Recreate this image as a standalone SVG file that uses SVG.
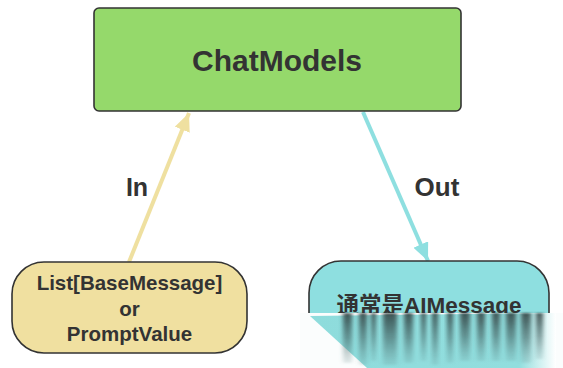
<svg xmlns="http://www.w3.org/2000/svg" width="563" height="368" viewBox="0 0 563 368">
<style>
  text { font-family: "Liberation Sans", "Noto Sans CJK SC", sans-serif; font-weight: bold; fill: #333333; text-anchor: middle; }
  .node { stroke: #333333; stroke-width: 1.6; }
  .edge { fill: none; stroke-width: 4; }
  .streak { fill: url(#streakGrad); filter: url(#soft); }
</style>
<defs>
  <marker id="headIn" markerUnits="userSpaceOnUse" markerWidth="20" markerHeight="16" refX="18" refY="8" orient="auto">
    <path d="M0,0 L18,8 L0,16 Z" fill="#efe0a0"/>
  </marker>
  <marker id="headOut" markerUnits="userSpaceOnUse" markerWidth="20" markerHeight="16" refX="18" refY="8" orient="auto">
    <path d="M0,0 L18,8 L0,16 Z" fill="#8edfe0"/>
  </marker>
  <linearGradient id="cyanFade" x1="0" y1="0" x2="1" y2="0">
    <stop offset="0" stop-color="#8edcdc"/>
    <stop offset="0.85" stop-color="#92dede"/>
    <stop offset="1" stop-color="#ffffff"/>
  </linearGradient>
  <linearGradient id="streakGrad" x1="0" y1="0" x2="0" y2="1">
    <stop offset="0" stop-color="#334444" stop-opacity="0.9"/>
    <stop offset="0.5" stop-color="#3d5a5a" stop-opacity="0.55"/>
    <stop offset="1" stop-color="#5a8080" stop-opacity="0.15"/>
  </linearGradient>
  <filter id="soft" x="-50%" y="-10%" width="200%" height="120%">
    <feGaussianBlur stdDeviation="2 1"/>
  </filter>
</defs>
<rect width="563" height="368" fill="#ffffff"/>
<g id="connectors">
  <line class="edge" x1="129" y1="262" x2="189" y2="113" stroke="#efe0a0" marker-end="url(#headIn)"/>
  <line class="edge" x1="363" y1="112" x2="428" y2="261" stroke="#8edfe0" marker-end="url(#headOut)"/>
  <text x="137" y="196" font-size="25">In</text>
  <text x="437" y="196" font-size="26">Out</text>
</g>
<g id="chatmodels">
  <rect class="node" x="94" y="8" width="367" height="103" rx="5" fill="#95d96b"/>
  <text x="277" y="71" font-size="30">ChatModels</text>
</g>
<g id="input">
  <rect class="node" x="12" y="262" width="235" height="91" rx="32" fill="#f0e0a0"/>
  <text x="129.5" y="290" font-size="20.5">List[BaseMessage]</text>
  <text x="129.5" y="316" font-size="20.5">or</text>
  <text x="129.5" y="341" font-size="20.5">PromptValue</text>
</g>
<g id="output">
  <rect class="node" x="309" y="261" width="240" height="92" rx="32" fill="#8edfe0"/>
  <text x="429" y="313" font-size="22.5">通常是AIMessage</text>
</g>
<g id="fade">
  <rect x="300" y="313" width="263" height="55" fill="#fbfdfd"/>
  <polygon points="310,316 556,313 556,368 367,368" fill="url(#cyanFade)"/>
  <rect class="streak" x="343" y="313" width="9" height="50"/>
  <rect class="streak" x="359" y="313" width="8" height="52"/>
  <rect class="streak" x="371" y="313" width="5" height="48"/>
  <rect class="streak" x="383" y="313" width="14" height="52"/>
  <rect class="streak" x="404" y="313" width="9" height="50"/>
  <rect class="streak" x="421" y="313" width="5" height="48"/>
  <rect class="streak" x="432" y="313" width="6" height="52"/>
  <rect class="streak" x="447" y="313" width="6" height="50"/>
  <rect class="streak" x="460" y="313" width="10" height="48"/>
  <rect class="streak" x="477" y="313" width="8" height="48"/>
  <rect class="streak" x="492" y="313" width="8" height="48"/>
  <rect class="streak" x="506" y="313" width="10" height="48"/>
  <rect class="streak" x="521" y="313" width="10" height="50"/>
  <rect class="streak" x="536" y="313" width="7" height="46"/>
</g>
</svg>
